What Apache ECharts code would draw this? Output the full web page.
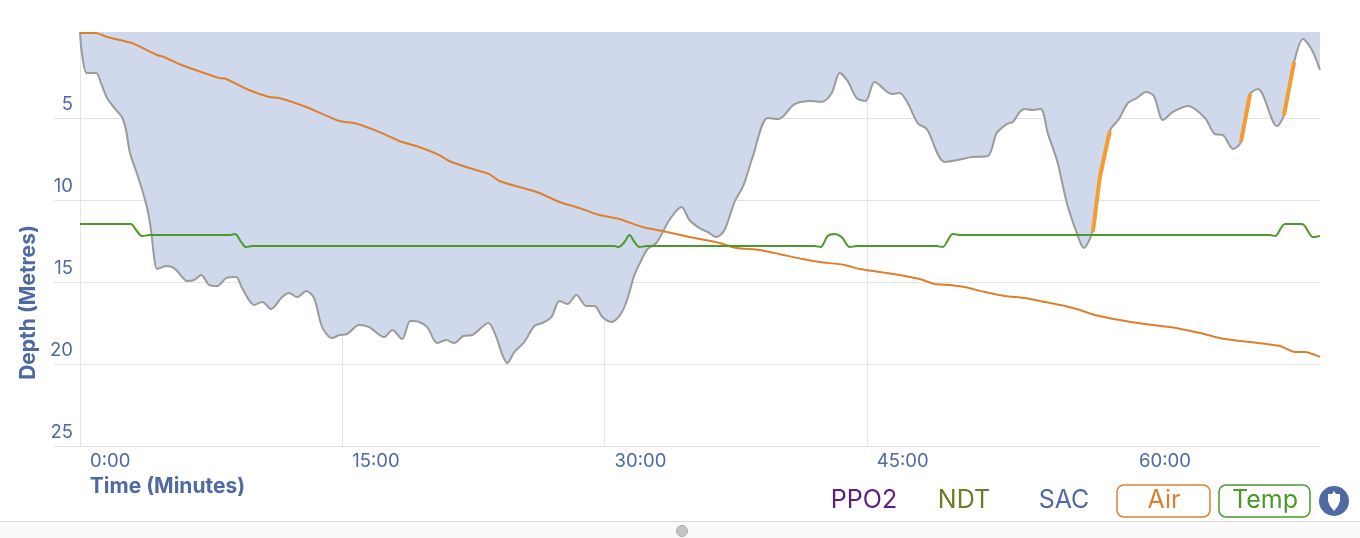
<!DOCTYPE html>
<html><head><meta charset="utf-8">
<script src="https://cdn.jsdelivr.net/npm/echarts@6/dist/echarts.min.js"></script>
<style>html,body{margin:0;padding:0;background:#fff}#c{width:1360px;height:538px}</style></head>
<body><div id="c"></div>
<script>
const depthTime=[0,.11,.40,.92,1.20,1.55,2.06,2.40,2.63,2.86,3.38,3.84,4.06,4.24,4.41,4.92,5.38,5.90,6.12,6.53,6.93,7.38,7.84,8.36,8.93,9.27,9.96,10.42,10.93,11.56,11.96,12.42,12.94,13.39,13.85,14.42,14.83,15.28,15.97,16.54,17.40,17.86,18.43,18.89,19.40,19.86,20.43,20.95,21.41,21.92,22.44,23.35,23.81,24.16,24.44,24.84,25.41,25.99,26.44,26.96,27.42,27.88,28.39,28.96,29.42,29.88,30.39,30.85,31.25,31.71,32.11,32.46,32.97,33.71,34.40,34.86,35.43,35.89,36.40,36.86,37.44,37.95,38.47,39.33,39.95,40.87,41.84,42.42,42.99,43.45,43.90,44.42,44.93,45.45,46.42,46.88,47.34,47.91,48.43,49.46,50.49,51.00,51.92,52.43,53.01,53.35,53.75,54.04,54.49,54.95,55.35,55.92,56.44,57.01,57.41,57.87,58.33,58.90,59.42,59.93,60.45,60.97,61.42,61.94,62.51,63.37,64.34,64.91,65.37,65.95,66.40,66.92,67.37,68.46,68.86,69.44,69.95,70.46,70.92];
const depthValue=[-.24,1.04,2.26,2.26,2.87,3.78,4.51,4.94,5.73,7.13,8.78,10.49,11.83,13.48,14.21,14.03,14.15,14.76,14.94,14.88,14.57,15.18,15.25,14.76,14.70,15.37,16.40,16.22,16.65,15.92,15.67,15.92,15.55,15.98,17.75,18.42,18.23,18.17,17.62,17.75,18.36,17.93,18.48,17.38,17.44,17.75,18.72,18.54,18.72,18.29,18.23,17.50,18.36,19.45,19.94,19.27,18.66,17.68,17.50,17.14,16.16,16.34,15.79,16.46,16.46,17.14,17.44,17.07,16.22,14.57,13.66,12.99,12.62,11.22,10.43,11.22,11.71,11.95,12.26,11.83,10.12,9.09,7.38,5.00,5.06,4.15,3.96,4.02,3.48,2.26,2.74,3.78,3.96,2.81,3.54,3.48,4.09,5.31,5.67,7.68,7.50,7.38,7.32,5.92,5.37,5.24,4.63,4.45,4.51,4.45,5.92,7.74,10.18,12.01,12.93,12.01,8.60,5.79,5.06,4.09,3.78,3.41,3.66,5.12,4.63,4.27,5.00,5.98,6.04,6.89,6.46,3.54,3.23,5.49,4.82,1.59,.18,.85,2.07];
const airTime=[0,.92,1.55,2.97,4.41,4.81,5.67,7.10,7.96,8.36,9.67,10.82,11.39,12.94,14.83,15.68,16.54,17.40,18.26,19.40,20.55,21.12,22.27,23.41,23.98,25.13,26.27,27.42,28.56,29.71,30.85,31.83,32.40,33.31,34.86,36.58,37.55,38.87,41.33,42.30,43.73,44.59,45.74,46.88,48.03,48.88,49.74,50.60,51.75,52.89,54.04,55.18,56.33,57.19,58.04,59.47,60.91,62.34,64.05,65.48,66.92,68.63,69.49,70.06,70.92];
const airValue=[-.18,-.18,.06,.43,1.16,1.28,1.71,2.26,2.56,2.62,3.29,3.72,3.78,4.33,5.18,5.31,5.61,5.98,6.40,6.77,7.26,7.62,8.05,8.42,8.84,9.21,9.57,10.12,10.49,10.92,11.16,11.53,11.71,11.89,12.26,12.62,12.93,13.05,13.60,13.78,13.96,14.21,14.39,14.57,14.82,15.12,15.18,15.31,15.61,15.85,15.98,16.22,16.46,16.71,17.01,17.32,17.56,17.75,18.11,18.48,18.66,18.90,19.27,19.27,19.57];
const tempTime=[0,2.69,2.92,3.21,3.55,3.95,8.53,8.87,9.22,9.50,9.85,30.57,30.80,31.14,31.43,31.71,32.00,32.40,42.02,42.36,42.76,43.16,43.56,44.02,44.42,49.00,49.34,49.92,50.43,68.06,68.35,68.92,69.89,70.52,70.92];
const tempValue=[11.46,11.46,11.46,11.83,12.20,12.14,12.14,12.07,12.56,12.87,12.81,12.81,12.87,12.56,12.14,12.56,12.87,12.81,12.81,12.87,12.20,12.07,12.26,12.87,12.81,12.81,12.87,12.07,12.14,12.14,12.20,11.46,11.46,12.26,12.20];
const ascentTime=[57.93,58.33,58.90,null,66.40,66.92,null,68.86,69.44];
const ascentValue=[11.95,8.60,5.79,null,6.46,3.54,null,4.82,1.59];
const xTicks=[0,15,30,45,60];
const yTicks=[5,10,15,20,25];
const xTickLabel=m=>m+':00';
const blue='#4f6aa3',grid='#e4e4e4',font='Inter, "Liberation Sans", sans-serif';
const zip=(a,b)=>a.map((t,i)=>t===null?[null,null]:[t,b[i]]);
const txt=(x,y,s,fill,size,extra)=>({type:'text',x,y,style:Object.assign({text:s,fill,font:`${size}px ${font}`,textAlign:'center',textVerticalAlign:'middle'},extra||{})});
const c=echarts.init(document.getElementById('c'),null,{renderer:'canvas'});
c.setOption({
 animation:false,
 backgroundColor:'#fff',
 grid:{left:80,right:40,top:36,bottom:92},
 xAxis:{type:'value',min:0,max:70.92,interval:15,
  axisLine:{show:false},
  axisTick:{show:true,length:20,customValues:xTicks,lineStyle:{color:grid}},
  splitLine:{show:true,showMaxLine:false,lineStyle:{color:grid}},
  axisLabel:{align:'left',margin:6,padding:[0,0,0,10],color:blue,fontFamily:font,fontSize:18.5,formatter:xTickLabel,customValues:xTicks}},
 yAxis:{type:'value',inverse:true,min:0,max:25,interval:5,
  axisLine:{show:false},
  axisTick:{show:true,length:26,customValues:yTicks,lineStyle:{color:grid}},
  splitLine:{show:true,lineStyle:{color:grid}},
  axisLabel:{margin:7,color:blue,fontFamily:font,fontSize:18.5,verticalAlign:'bottom',padding:[0,0,4,0],customValues:yTicks}},
 series:[
  {name:'Depth',type:'line',data:zip(depthTime,depthValue),smooth:.3,showSymbol:false,clip:false,
   lineStyle:{color:'#9b9b9b',width:2},areaStyle:{color:'#d0d9eb',opacity:1,origin:-0.24},z:2},
  {name:'Ascent',type:'line',data:zip(ascentTime,ascentValue),showSymbol:false,connectNulls:false,clip:false,
   lineStyle:{color:'#f39c32',width:4,cap:'butt'},z:3},
  {name:'Air',type:'line',data:zip(airTime,airValue),smooth:.2,showSymbol:false,clip:false,
   lineStyle:{color:'#de7f2e',width:2},z:4},
  {name:'Temp',type:'line',data:zip(tempTime,tempValue),smooth:.3,showSymbol:false,clip:false,
   lineStyle:{color:'#4a9a2a',width:2},z:5}
 ],
 graphic:[
  {type:'rect',shape:{x:0,y:521,width:1360,height:17},style:{fill:'#fafafa'},z:0},
  {type:'rect',shape:{x:0,y:521,width:1360,height:1},style:{fill:'#dcdcdc'}},
  {type:'circle',shape:{cx:682,cy:531,r:5.5},style:{fill:'#c4c4c4',stroke:'#aaa',lineWidth:1}},
  txt(167.5,487,'Time (Minutes)',blue,21,{font:`bold 21px ${font}`}),
  {type:'text',x:29,y:302.5,rotation:Math.PI/2,style:{text:'Depth (Metres)',fill:blue,font:`bold 21px ${font}`,textAlign:'center',textVerticalAlign:'middle'}},
  txt(864,500,'PPO2','#5b1f7f',25),
  txt(964,500,'NDT','#6e7a28',25),
  txt(1064,500,'SAC',blue,25),
  {type:'rect',shape:{x:1117,y:485,width:93,height:32,r:7},style:{fill:'#fff',stroke:'#de7f2e',lineWidth:1.5}},
  txt(1164,500,'Air','#de7f2e',25),
  {type:'rect',shape:{x:1219,y:485,width:91,height:32,r:7},style:{fill:'#fff',stroke:'#4a9a2a',lineWidth:1.5}},
  txt(1265,500,'Temp','#4a9a2a',25),
  {type:'circle',shape:{cx:1334,cy:501,r:15},style:{fill:blue}},
  {type:'polygon',shape:{points:[[1334,491],[1336,494],[1340,494],[1340,501],[1338,506],[1334,511],[1330,506],[1328,501],[1328,494],[1332,494]]},style:{fill:'#fff'}}
 ]
});
</script></body></html>
